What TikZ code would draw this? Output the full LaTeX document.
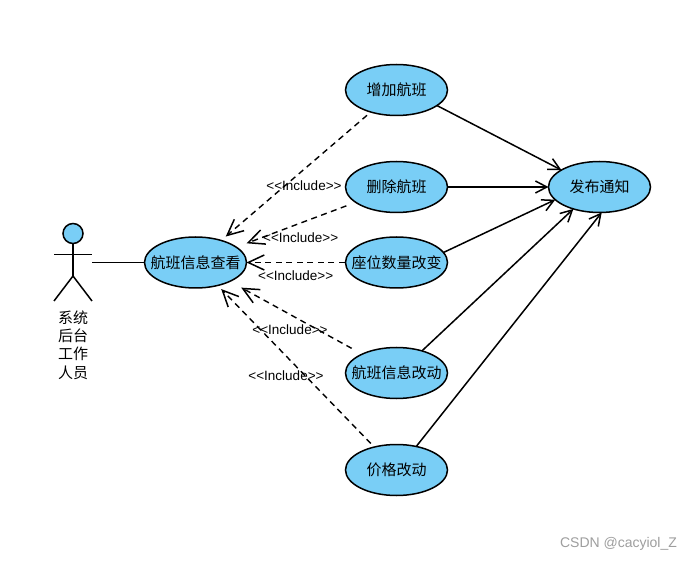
\documentclass[tikz,border=0pt]{standalone}
\usepackage{fontspec}
\setmainfont{Liberation Sans}
\newfontfamily\cjk{Noto Sans CJK SC}
\usetikzlibrary{shapes.geometric,arrows.meta}
\definecolor{ucfill}{HTML}{79CEF6}
\tikzset{
  usecase/.style={ellipse,draw=black,fill=ucfill,line width=1.5pt,minimum width=102pt,minimum height=51pt,inner ysep=0pt,inner xsep=-25pt,outer sep=0pt,font=\cjk\fontsize{15}{18}\selectfont},
  assoc/.style={line width=1.5pt,-{Straight Barb[length=11.5pt,width=12pt,line width=1.5pt]}},
  incl/.style={line width=1.4pt,dash pattern=on 6pt off 4.5pt,-{Straight Barb[length=16pt,width=15pt,line width=1.5pt]}},
  stick/.style={line width=1.5pt},
  incllabel/.style={inner sep=0pt,font=\fontsize{13.5}{15}\selectfont},
}
\begin{document}
\begin{tikzpicture}[x=1pt,y=-1pt]
\useasboundingbox (0,0) rectangle (691,561);
\fill[white] (0,0) rectangle (691,561);
\node[usecase] (add) at (396.5,90) {增加航班};
\node[usecase] (del) at (396.5,187) {删除航班};
\node[usecase] (seat) at (396.5,262.5) {座位数量改变};
\node[usecase] (info) at (396.5,373) {航班信息改动};
\node[usecase] (price) at (396.5,470) {价格改动};
\node[usecase] (notify) at (599.5,187) {发布通知};
\node[usecase] (view) at (195.5,262.5) {航班信息查看};
% actor
\node[circle,draw=black,fill=ucfill,line width=1.5pt,minimum size=20pt,inner sep=0pt,outer sep=0pt] (head) at (73,233.5) {};
\coordinate (hip) at (73,276);
\coordinate (hand) at (92,262.5);
\draw[stick] (head.south) -- (hip);
\draw[stick] (54,254.5) -- (92,254.5);
\draw[stick] (54,301) -- (hip) -- (92,301);
\node[align=center,inner sep=0pt,font=\cjk\fontsize{15}{18.3}\selectfont] (actorlabel) at (73,345) {系统\\后台\\工作\\人员};
\draw[stick] (hand) -- (view.west);
% includes
\draw[incl,shorten <=5pt,shorten >=6pt] (add) -- (view);
\draw[incl,shorten <=10pt,shorten >=11pt] (del) -- (view);
\draw[incl,shorten <=1pt] (seat) -- (view);
\draw[incl,shorten <=12pt,shorten >=13pt] (info) -- (view);
\draw[incl,shorten <=5pt,shorten >=5pt] (price) -- (view);
% notify
\draw[assoc] (add.-21) -- (notify.156);
\draw[assoc] (del) -- (notify);
\draw[assoc] (seat.12.4) -- (notify.196.3);
\draw[assoc] (info.41.7) -- (notify.220);
\draw[assoc] (price.50) -- (notify.275);
% labels
\node[incllabel] (l1) at (304,186) {<{}<Include>{}>};
\node[incllabel] (l2) at (300.7,237.3) {<{}<Include>{}>};
\node[incllabel] (l3) at (295.7,276) {<{}<Include>{}>};
\node[incllabel] (l4) at (290,330) {<{}<Include>{}>};
\node[incllabel] (l5) at (286,375.3) {<{}<Include>{}>};
\node[inner sep=0pt,text=black!38,font=\fontsize{14}{16}\selectfont] (wm) at (618.5,544) {CSDN @cacyiol\_Z};
\end{tikzpicture}
\end{document}
